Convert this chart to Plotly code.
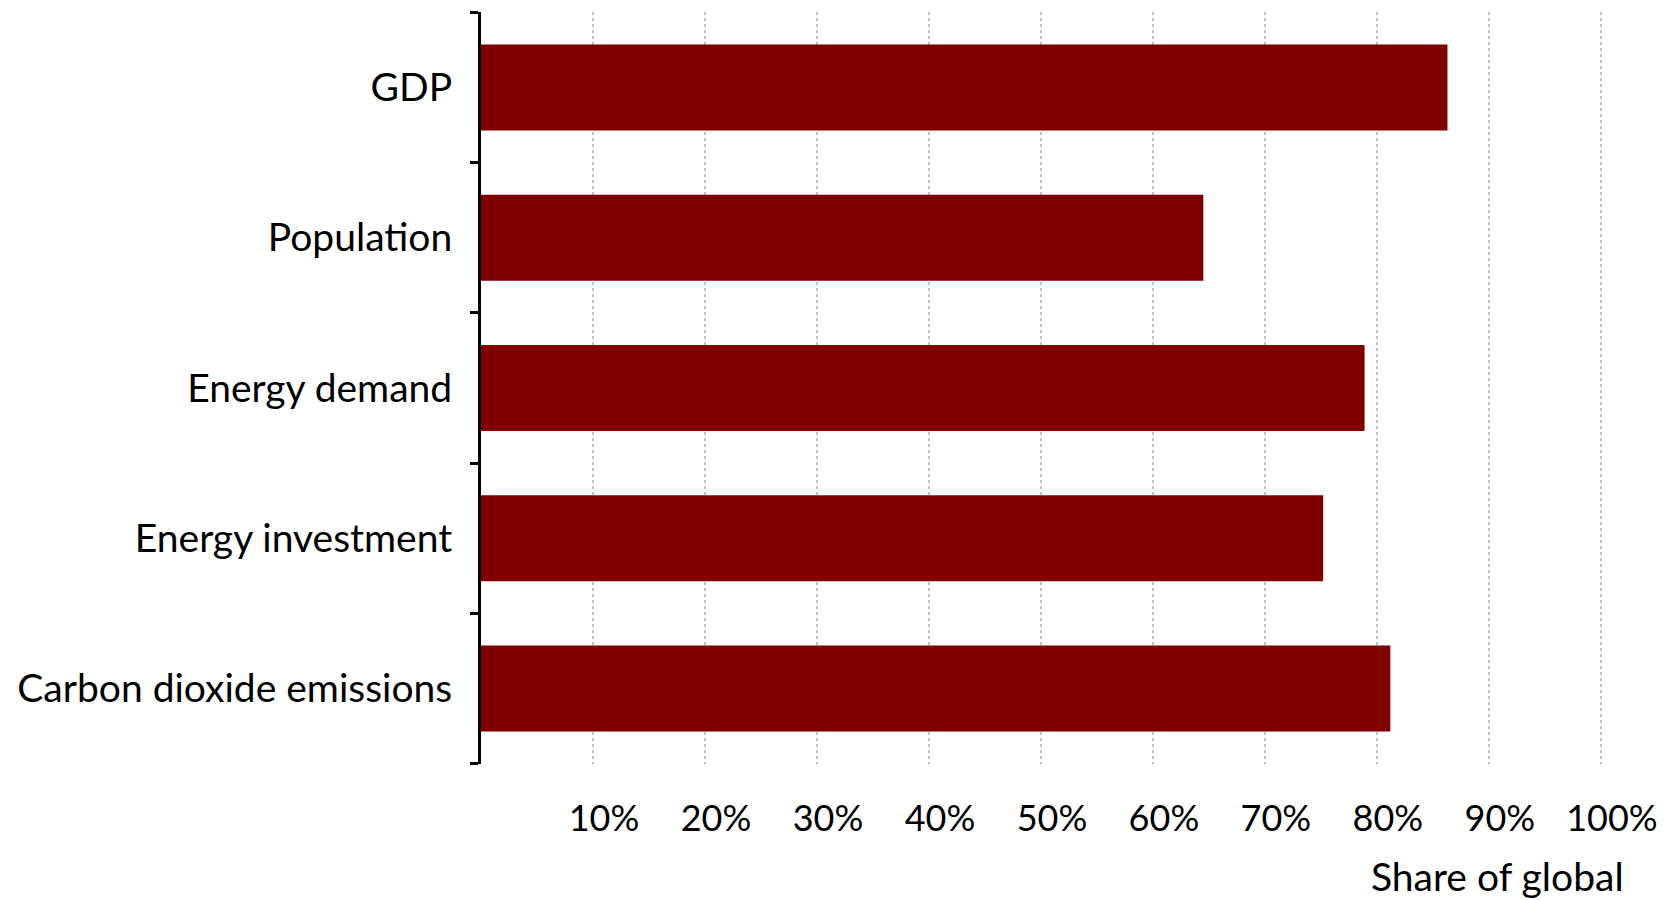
import plotly.graph_objects as go

categories = ["GDP", "Population", "Energy demand", "Energy investment", "Carbon dioxide emissions"]
shares = [86.3, 64.5, 78.9, 75.2, 81.2]
tick_values = [10, 20, 30, 40, 50, 60, 70, 80, 90, 100]
tick_labels = ["10%", "20%", "30%", "40%", "50%", "60%", "70%", "80%", "90%", "100%"]
axis_title = "Share of global"

FONT = "Lato"

positions = list(range(len(categories)))
boundaries = [p - 0.5 for p in positions] + [positions[-1] + 0.5]

fig = go.Figure(go.Bar(
    y=positions,
    x=shares,
    orientation="h",
    marker=dict(color="#800000", line=dict(width=0)),
    hovertext=categories,
))

fig.update_layout(
    width=1677, height=900,
    margin=dict(l=481, r=75, t=12, b=136, autoexpand=False),
    paper_bgcolor="white", plot_bgcolor="white",
    bargap=0.427,
    showlegend=False,
    font=dict(family=FONT, size=36, color="black"),
)

fig.update_xaxes(
    range=[0, 100.1],
    tickvals=tick_values,
    ticktext=tick_labels,
    showgrid=True,
    gridcolor="#c0c0c0",
    gridwidth=2,
    griddash="dot",
    showline=False,
    zeroline=False,
    ticks="",
    ticklabelstandoff=30,
    ticklabelshift=11,
    automargin=False,
    tickfont=dict(family=FONT, size=36, color="black"),
)

fig.update_yaxes(
    range=[4.503, -0.503],
    tickvals=positions,
    ticktext=categories,
    showline=True,
    linecolor="black",
    linewidth=3,
    ticks="",
    minor=dict(tickvals=boundaries, ticks="outside", ticklen=8, tickwidth=3,
               tickcolor="black", showgrid=False),
    showgrid=False,
    zeroline=False,
    automargin=False,
    ticklabelstandoff=18,
    tickfont=dict(family=FONT, size=39, color="black"),
)

fig.add_annotation(
    text=axis_title,
    xref="paper", yref="paper",
    x=(1626 - 481) / 1121, y=(763 - 875) / 752,
    xanchor="right", yanchor="middle",
    showarrow=False,
    font=dict(family=FONT, size=39, color="black"),
)

fig.write_html("out.html")
